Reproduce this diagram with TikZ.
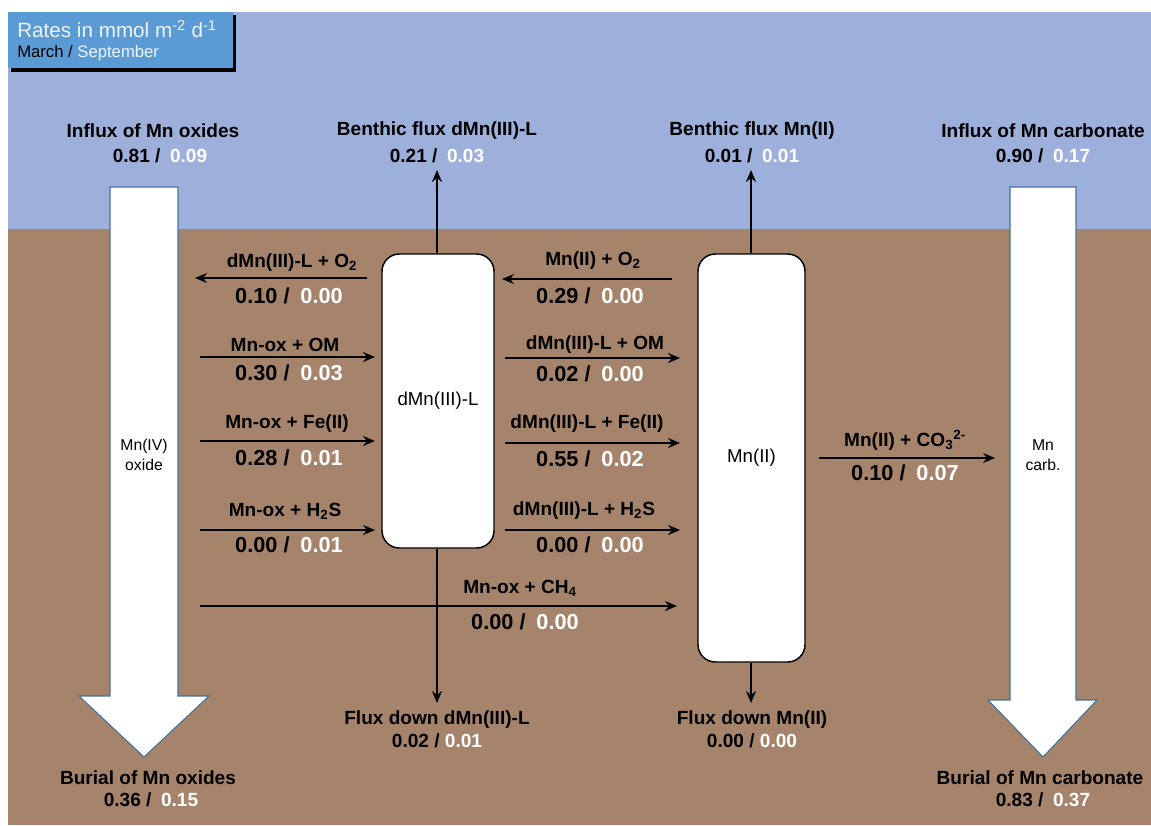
\documentclass[tikz,border=0pt]{standalone}
\usepackage{fontspec}
\setmainfont{Liberation Sans}
\usetikzlibrary{arrows.meta}
\definecolor{sky}{HTML}{9DAFDB}
\definecolor{mud}{HTML}{A6846B}
\definecolor{legendblue}{HTML}{5B9BD5}
\definecolor{arrowedge}{HTML}{41719C}
\definecolor{paletxt}{HTML}{EEF4FB}
\newcommand{\ratetwo}[2]{#1 /\hspace{0.5em}\textcolor{white}{#2}}
\newcommand{\rateone}[2]{#1 / \textcolor{white}{#2}}
\begin{document}
\begin{tikzpicture}[x=0.75pt,y=-0.75pt,
  ttl/.style={font=\fontsize{14.3}{17}\selectfont\bfseries, inner sep=0pt, align=center},
  rlab/.style={font=\fontsize{14.3}{17}\selectfont\bfseries, inner sep=0pt},
  rnum/.style={font=\fontsize{16.3}{19}\selectfont\bfseries, inner sep=0pt},
  pool/.style={draw=black, line width=1.1pt, fill=white, rounded corners=13pt, inner sep=0pt, font=\fontsize{14}{17}\selectfont},
  bigarrow/.style={draw=arrowedge, line width=0.8pt, fill=white},
  flow/.style={line width=2.1pt, -{Stealth[length=9pt,width=7.5pt]}}
]
\useasboundingbox (0,0) rectangle (1151,825);
\fill[white] (0,0) rectangle (1151,825);
\fill[sky] (8,12) rectangle (1151,229);
\fill[mud] (8,229) rectangle (1151,825);

% legend
\fill[black] (11,15) rectangle (236,72);
\fill[legendblue] (8,12) rectangle (233,68);
\node[anchor=west, inner sep=0pt, text=paletxt, font=\fontsize{15.5}{19}\selectfont] (legtitle) at (17,29) {Rates in mmol m\textsuperscript{-2} d\textsuperscript{-1}};
\node[anchor=west, inner sep=0pt, font=\fontsize{12.5}{15}\selectfont] (legsub) at (17,53) {March / \textcolor{paletxt}{September}};

% big arrows
\draw[bigarrow] (110,187) -- (178,187) -- (178,696) -- (209,696) -- (144,757) -- (79,696) -- (110,696) -- cycle;
\node[inner sep=0pt, align=center, font=\fontsize{11.8}{15}\selectfont] (mnox) at (144,455) {Mn(IV)\\oxide};
\draw[bigarrow] (1010,187) -- (1076,187) -- (1076,700) -- (1097,700) -- (1043,757) -- (988,700) -- (1010,700) -- cycle;
\node[inner sep=0pt, align=center, font=\fontsize{11.8}{15}\selectfont] (mncarb) at (1043,455) {Mn\\carb.};

% pools
\node[pool, minimum width=84pt, minimum height=220.5pt] (dmn) at (438,401) {dMn(III)-L};
\node[pool, minimum width=80.25pt, minimum height=306pt] (mn2) at (751.5,458) {Mn(II)};

% titles
\node[ttl] (inox) at (153,131) {Influx of Mn oxides};
\node[ttl] (inoxv) at (160,156) {\ratetwo{0.81}{0.09}};
\node[ttl] (bfd) at (437,131) {Benthic flux dMn(III)-L};
\node[ttl] (bfdv) at (437,156) {\ratetwo{0.21}{0.03}};
\node[ttl] (bfm) at (752,131) {Benthic flux Mn(II)};
\node[ttl] (bfmv) at (752,156) {\ratetwo{0.01}{0.01}};
\node[ttl] (incb) at (1043,131) {Influx of Mn carbonate};
\node[ttl] (incbv) at (1043,156) {\ratetwo{0.90}{0.17}};
\node[ttl] (buox) at (148,778) {Burial of Mn oxides};
\node[ttl] (buoxv) at (151,800) {\ratetwo{0.36}{0.15}};
\node[ttl] (bucb) at (1040,778) {Burial of Mn carbonate};
\node[ttl] (bucbv) at (1043,800) {\ratetwo{0.83}{0.37}};
\node[ttl] (fdd) at (437,720) {Flux down dMn(III)-L};
\node[ttl] (fddv) at (437,741) {\rateone{0.02}{0.01}};
\node[ttl] (fdm) at (752,720) {Flux down Mn(II)};
\node[ttl] (fdmv) at (752,741) {\rateone{0.00}{0.00}};

% vertical fluxes
\coordinate (tdmn) at (437,170);
\coordinate (tmn) at (751,170);
\coordinate (ddmn) at (437,703);
\coordinate (dmn2) at (751,703);
\draw[flow] (dmn.north -| tdmn) -- (tdmn);
\draw[flow] (mn2.north -| tmn) -- (tmn);
\draw[flow] (dmn.south -| ddmn) -- (ddmn);
\draw[flow] (mn2.south -| dmn2) -- (dmn2);

% left reactions
\coordinate (l1a) at (367,278); \coordinate (l1b) at (195,278);
\draw[flow] (l1a) -- (l1b);
\node[rlab] (l1t) at (292,263) {dMn(III)-L + O\textsubscript{2}};
\node[rnum] (l1v) at (289,296) {\ratetwo{0.10}{0.00}};

\coordinate (l2a) at (200,357); \coordinate (l2b) at (375,357);
\draw[flow] (l2a) -- (l2b);
\node[rlab] (l2t) at (285,345) {Mn-ox + OM};
\node[rnum] (l2v) at (289,373) {\ratetwo{0.30}{0.03}};

\coordinate (l3a) at (200,441); \coordinate (l3b) at (375,441);
\draw[flow] (l3a) -- (l3b);
\node[rlab] (l3t) at (287,424) {Mn-ox + Fe(II)};
\node[rnum] (l3v) at (289,458) {\ratetwo{0.28}{0.01}};

\coordinate (l4a) at (200,530); \coordinate (l4b) at (375,530);
\draw[flow] (l4a) -- (l4b);
\node[rlab] (l4t) at (285,511) {Mn-ox + H\textsubscript{2}S};
\node[rnum] (l4v) at (289,545) {\ratetwo{0.00}{0.01}};

% middle reactions
\coordinate (m1a) at (672,279); \coordinate (m1b) at (502,279);
\draw[flow] (m1a) -- (m1b);
\node[rlab] (m1t) at (593,261) {Mn(II) + O\textsubscript{2}};
\node[rnum] (m1v) at (590,296) {\ratetwo{0.29}{0.00}};

\coordinate (m2a) at (505,358); \coordinate (m2b) at (680,358);
\draw[flow] (m2a) -- (m2b);
\node[rlab] (m2t) at (595,345) {dMn(III)-L + OM};
\node[rnum] (m2v) at (590,374) {\ratetwo{0.02}{0.00}};

\coordinate (m3a) at (505,443); \coordinate (m3b) at (680,443);
\draw[flow] (m3a) -- (m3b);
\node[rlab] (m3t) at (587,424) {dMn(III)-L + Fe(II)};
\node[rnum] (m3v) at (590,459) {\ratetwo{0.55}{0.02}};

\coordinate (m4a) at (505,530); \coordinate (m4b) at (680,530);
\draw[flow] (m4a) -- (m4b);
\node[rlab] (m4t) at (584,511) {dMn(III)-L + H\textsubscript{2}S};
\node[rnum] (m4v) at (590,545) {\ratetwo{0.00}{0.00}};

% CH4
\coordinate (c4a) at (200,606); \coordinate (c4b) at (677,606);
\draw[flow] (c4a) -- (c4b);
\node[rlab] (c4t) at (520,588) {Mn-ox + CH\textsubscript{4}};
\node[rnum] (c4v) at (525,622) {\ratetwo{0.00}{0.00}};

% CO3
\coordinate (c3a) at (819,458); \coordinate (c3b) at (995,458);
\draw[flow] (c3a) -- (c3b);
\node[rlab] (c3t) at (905,440) {Mn(II) + CO\textsubscript{3}\textsuperscript{2-}};
\node[rnum] (c3v) at (905,473) {\ratetwo{0.10}{0.07}};
\end{tikzpicture}
\end{document}
